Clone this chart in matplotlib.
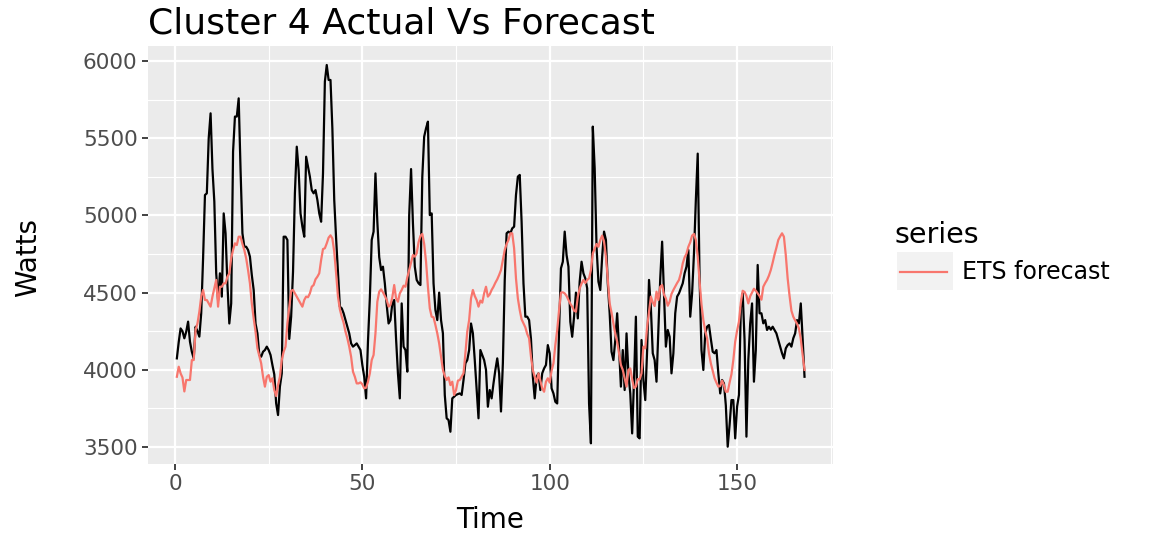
import matplotlib
matplotlib.use('Agg')
import matplotlib.pyplot as plt
from matplotlib.patches import Rectangle
from matplotlib.lines import Line2D

# ---------------- data (half-hour steps, Time 0.5 .. 168) ----------------
actual = [
    4074, 4180, 4268, 4250, 4204, 4247, 4312, 4182, 4117, 4074,
    4279, 4250, 4215, 4366, 4722, 5132, 5143, 5499, 5661, 5300,
    5089, 4625, 4452, 4625, 4474, 5013, 4884, 4550, 4300, 4430,
    5413, 5640, 5640, 5758, 5294, 4884, 4797, 4797, 4776, 4733,
    4614, 4517, 4300, 4236, 4096, 4085, 4117, 4128, 4150, 4128,
    4096, 4031, 3970, 3783, 3707, 3891, 3977, 4862, 4862, 4841,
    4200, 4344, 4635, 5143, 5445, 5294, 5013, 4927, 4862, 5380,
    5316, 5251, 5164, 5143, 5164, 5100, 5013, 4959, 5272, 5866,
    5974, 5877, 5877, 5564, 5100, 4851, 4625, 4409, 4398, 4366,
    4322, 4279, 4236, 4171, 4150, 4160, 4171, 4150, 4128, 4031,
    3955, 3815, 4182, 4463, 4841, 4895, 5272, 4959, 4730, 4646,
    4668, 4560, 4420, 4300, 4322, 4430, 4452, 4200, 3977, 3815,
    4430, 4150, 4128, 3988, 5000, 5300, 4949, 4668, 4582, 4560,
    4549, 5250, 5510, 5564, 5607, 5002, 5013, 4560, 4387, 4322,
    4500, 4322, 4236, 3837, 3686, 3675, 3599, 3815, 3826, 3837,
    3843, 3847, 3837, 3934, 4042, 4063, 4128, 4300, 4236, 4063,
    3869, 3686, 4128, 4096, 4063, 4000, 3761, 3869, 3815, 3912,
    3999, 4074, 3977, 3730, 4042, 4582, 4884, 4895, 4884, 4916,
    4927, 5132, 5251, 5262, 4959, 4560, 4344, 4344, 4322, 4200,
    3955, 3815, 3955, 3977, 3869, 3977, 4009, 4031, 4160, 4107,
    3880, 3847, 3793, 3782, 4258, 4657, 4700, 4895, 4743, 4668,
    4311, 4214, 4344, 4500, 4333, 4571, 4700, 4625, 4592, 4528,
    3783, 3524, 5575, 5305, 4797, 4571, 4517, 4733, 4895, 4841,
    4560, 4366, 4117, 4063, 4193, 4366, 4139, 3891, 4128, 3869,
    4236, 3977, 3847, 3588, 3934, 4344, 3567, 3556, 4193, 3934,
    3804, 4128, 4582, 4400, 4107, 4063, 3923, 4258, 4592, 4830,
    4495, 4150, 4258, 4214, 3977, 4107, 4366, 4474, 4495, 4527,
    4560, 4625, 4668, 4776, 4344, 4495, 4754, 5100, 5400, 4582,
    4128, 3999, 4236, 4279, 4290, 4200, 4117, 4107, 4128, 3977,
    3847, 3934, 3912, 3770, 3502, 3642, 3804, 3804, 3556, 3761,
    3837, 4400, 4495, 4193, 3567, 4063, 4300, 4430, 3923, 4128,
    4679, 4366, 4366, 4301, 4322, 4258, 4279, 4260, 4279, 4258,
    4236, 4193, 4150, 4107, 4074, 4139, 4160, 4171, 4150, 4204,
    4236, 4322, 4300, 4430, 4200, 3955,
]

ets_forecast = [
    3955, 4020, 3977, 3950, 3860, 3934, 3934, 3934, 4063, 4063,
    4258, 4300, 4376, 4474, 4517, 4452, 4452, 4430, 4409, 4474,
    4528, 4582, 4409, 4538, 4538, 4560, 4560, 4603, 4625, 4722,
    4776, 4819, 4808, 4862, 4862, 4815, 4776, 4722, 4646, 4560,
    4430, 4333, 4247, 4139, 4089, 4042, 3955, 3891, 3955, 3966,
    3923, 3945, 3869, 3830, 3901, 3955, 4063, 4117, 4150, 4301,
    4409, 4512, 4517, 4495, 4474, 4452, 4430, 4409, 4452, 4474,
    4470, 4495, 4538, 4549, 4586, 4603, 4625, 4711, 4782, 4787,
    4819, 4856, 4871, 4851, 4765, 4625, 4474, 4392, 4344, 4305,
    4247, 4204, 4150, 4085, 3988, 3955, 3912, 3912, 3919, 3906,
    3880, 3884, 3923, 3977, 4063, 4096, 4236, 4441, 4506, 4521,
    4502, 4478, 4452, 4409, 4420, 4470, 4549, 4463, 4441, 4495,
    4517, 4545, 4538, 4599, 4646, 4696, 4743, 4733, 4754, 4826,
    4867, 4880, 4815, 4700, 4538, 4398, 4344, 4340, 4290, 4236,
    4171, 4085, 3999, 3960, 3934, 3951, 3901, 3923, 3837, 3869,
    3930, 3934, 3955, 3977, 4107, 4247, 4322, 4463, 4517, 4478,
    4452, 4409, 4448, 4435, 4495, 4538, 4474, 4489, 4517, 4538,
    4564, 4586, 4614, 4646, 4711, 4776, 4815, 4841, 4884, 4884,
    4787, 4592, 4463, 4387, 4327, 4301, 4275, 4232, 4204, 4085,
    3999, 3955, 3917, 3977, 3930, 3880, 3858, 3923, 3945, 3917,
    3994, 4042, 4160, 4258, 4387, 4500, 4502, 4495, 4478, 4452,
    4428, 4409, 4383, 4376, 4474, 4528, 4558, 4582, 4562, 4582,
    4592, 4646, 4754, 4784, 4815, 4797, 4841, 4869, 4830, 4733,
    4586, 4430, 4370, 4301, 4232, 4182, 4107, 4031, 3999, 3945,
    3891, 3999, 4009, 3938, 3882, 3891, 3940, 3938, 3977, 4150,
    4139, 4279, 4376, 4474, 4437, 4413, 4506, 4452, 4538, 4549,
    4487, 4463, 4415, 4441, 4491, 4517, 4540, 4562, 4582, 4625,
    4689, 4728, 4752, 4797, 4826, 4869, 4880, 4841, 4733, 4571,
    4424, 4322, 4253, 4204, 4107, 4042, 3994, 3945, 3917, 3891,
    3895, 3930, 3901, 3858, 3858, 3917, 3971, 4063, 4182, 4253,
    4312, 4435, 4512, 4504, 4478, 4430, 4476, 4500, 4525, 4512,
    4495, 4478, 4454, 4538, 4562, 4582, 4610, 4646, 4694, 4746,
    4791, 4841, 4864, 4884, 4862, 4743, 4592, 4480, 4383, 4344,
    4320, 4299, 4268, 4200, 4096, 3999,
]

# time axis: one observation every half unit, starting at 0.5
time_actual = [0.5 * (i + 1) for i in range(len(actual))]
time_forecast = [0.5 * (i + 1) for i in range(len(ets_forecast))]

x_ticks = [0, 50, 100, 150]
x_minor = [25, 75, 125, 175]
y_ticks = [3500, 4000, 4500, 5000, 5500, 6000]
y_minor = [3750, 4250, 4750, 5250, 5750]

title_text = "Cluster 4 Actual Vs Forecast"
x_label = "Time"
y_label = "Watts"
legend_title = "series"
legend_label = "ETS forecast"

# ---------------- figure ----------------
W, H = 1151, 533
fig = plt.figure(figsize=(W / 100, H / 100), dpi=100)
fig.patch.set_facecolor('white')

p_left, p_right, p_top, p_bottom = 148, 833, 46, 464
ax = fig.add_axes([p_left / W, (H - p_bottom) / H,
                   (p_right - p_left) / W, (p_bottom - p_top) / H])
ax.set_facecolor('#EBEBEB')

ax.plot(time_actual, actual, color='black', lw=1.6, zorder=3)
ax.plot(time_forecast, ets_forecast, color='#F8766D', lw=1.6, zorder=4)

ax.set_xlim(-7.2, 175.6)
ax.set_ylim(3390, 6097)
ax.set_xticks(x_ticks)
ax.set_xticks(x_minor, minor=True)
ax.set_yticks(y_ticks)
ax.set_yticks(y_minor, minor=True)
ax.set_xticklabels([str(v) for v in x_ticks])
ax.set_yticklabels([str(v) for v in y_ticks])

ax.grid(which='major', color='white', lw=1.6)
ax.grid(which='minor', color='white', lw=0.8)
ax.set_axisbelow(True)
for s in ax.spines.values():
    s.set_visible(False)

ax.tick_params(which='major', length=4.5, width=1.3, color='#333333',
               labelcolor='#4D4D4D', labelsize=15.5, pad=3)
ax.tick_params(which='minor', length=0)

ax.set_xlabel(x_label, fontsize=20, color='black')
ax.xaxis.set_label_coords(0.5, -0.10)
ax.set_ylabel(y_label, fontsize=20, color='black')
ax.yaxis.set_label_coords(-0.155, 0.495)

fig.text(p_left / W, (H - 33) / H, title_text, fontsize=26,
         ha='left', va='baseline', color='black')

# ---------------- legend ----------------
fig.text(895 / W, (H - 243) / H, legend_title, fontsize=20.5,
         ha='left', va='baseline', color='black')
fig.patches.append(Rectangle((897 / W, (H - 290) / H), 56 / W, 38 / H,
                             transform=fig.transFigure, facecolor='#F2F2F2',
                             edgecolor='none', zorder=1))
fig.lines.append(Line2D([900 / W, 947 / W], [(H - 272) / H, (H - 272) / H],
                        transform=fig.transFigure, color='#F8766D', lw=1.6,
                        zorder=2))
fig.text(962 / W, (H - 272) / H, legend_label, fontsize=17,
         ha='left', va='center', color='black')

fig.savefig('out.png', dpi=100)
